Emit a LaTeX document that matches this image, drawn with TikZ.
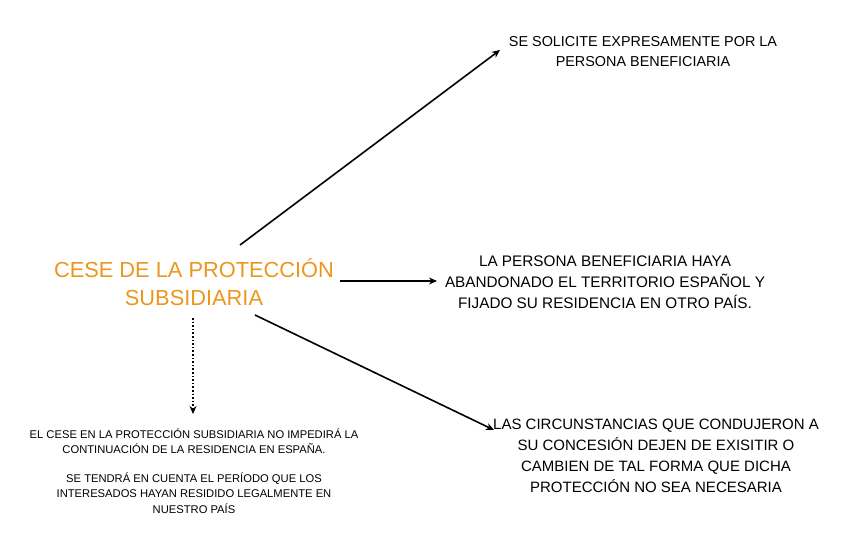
\documentclass[tikz,border=0pt]{standalone}
\usepackage{fontspec}
\setmainfont{Liberation Sans}
\usetikzlibrary{arrows.meta}
\definecolor{orng}{RGB}{236,150,30}
\tikzset{lbl/.style={align=center,inner sep=0pt},
arr/.style={-{Stealth[length=8pt,width=7pt]},line width=1.6pt}}
\begin{document}
\begin{tikzpicture}[x=1pt,y=-1pt]
\useasboundingbox (0,0) rectangle (848,544);
\node[lbl,text=orng,font=\fontsize{21.8}{28}\selectfont] (t) at (194,282) {CESE DE LA PROTECCIÓN\\SUBSIDIARIA};
\node[lbl,font=\fontsize{14.4}{20}\selectfont] (a) at (643,52) {SE SOLICITE EXPRESAMENTE POR LA\\PERSONA BENEFICIARIA};
\node[lbl,font=\fontsize{15.3}{21}\selectfont] (b) at (605,282) {LA PERSONA BENEFICIARIA HAYA\\ABANDONADO EL TERRITORIO ESPAÑOL Y\\FIJADO SU RESIDENCIA EN OTRO PAÍS.};
\node[lbl,font=\fontsize{15}{21}\selectfont] (c) at (656,456) {LAS CIRCUNSTANCIAS QUE CONDUJERON A\\SU CONCESIÓN DEJEN DE EXISITIR O\\CAMBIEN DE TAL FORMA QUE DICHA\\PROTECCIÓN NO SEA NECESARIA};
\node[lbl,font=\fontsize{11.2}{15.5}\selectfont] (d) at (194,471) {EL CESE EN LA PROTECCIÓN SUBSIDIARIA NO IMPEDIRÁ LA\\CONTINUACIÓN DE LA RESIDENCIA EN ESPAÑA.\\[13pt]SE TENDRÁ EN CUENTA EL PERÍODO QUE LOS\\INTERESADOS HAYAN RESIDIDO LEGALMENTE EN\\NUESTRO PAÍS};
\coordinate (s1) at (240,245); \coordinate (e1) at (500,50);
\coordinate (s2) at (340,281); \coordinate (e2) at (437,281);
\coordinate (s3) at (255,315); \coordinate (e3) at (494,430);
\coordinate (s4) at (193,318); \coordinate (e4) at (193,414);
\draw[arr] (s1) -- (e1);
\draw[arr] (s2) -- (e2);
\draw[arr] (s3) -- (e3);
\draw[arr,dotted] (s4) -- (e4);
\end{tikzpicture}
\end{document}
